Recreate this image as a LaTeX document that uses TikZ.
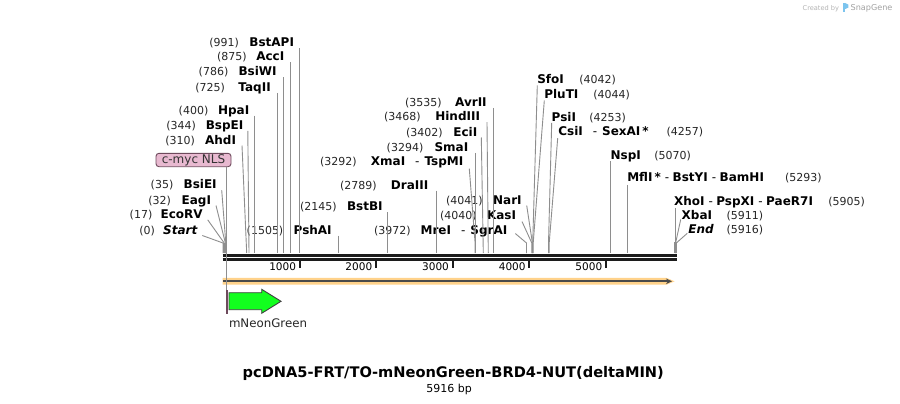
\documentclass[tikz,border=0pt]{standalone}
\usepackage{fontspec}
\setmainfont{DejaVu Sans}
\usetikzlibrary{calc,arrows.meta}
\definecolor{linegray}{HTML}{8E8E8E}
\definecolor{axisblack}{HTML}{1C1C1C}
\definecolor{bandorange}{HTML}{FFD28A}
\definecolor{banddark}{HTML}{4A4A4A}
\definecolor{neongreen}{HTML}{12FF1E}
\definecolor{nlspink}{HTML}{E8B9D0}
\definecolor{nlsborder}{HTML}{6E4A5C}
\definecolor{logogray}{HTML}{B4B4B4}
\definecolor{logoblue}{HTML}{7CC4EE}
\newcommand{\cutdash}{\hspace{4pt}{\mdseries -}\hspace{3.5pt}}
\newcommand{\cutdashw}{\hspace{10pt}{\mdseries -}\hspace{5pt}}

\begin{document}
\begin{tikzpicture}[x=1pt,y=-1pt]
\tikzstyle{every node}=[inner sep=0pt, outer sep=0pt]
\tikzstyle{num}=[font=\fontsize{11}{13}\selectfont, text=black!85]
\tikzstyle{enz}=[font=\fontsize{12}{14}\selectfont\bfseries]
\tikzstyle{endlab}=[font=\fontsize{12}{14}\selectfont\bfseries\itshape]
\tikzstyle{conn}=[draw=linegray, line width=0.9pt]
\tikzstyle{axtick}=[draw=axisblack, line width=2pt]
\tikzstyle{ticklab}=[font=\fontsize{10.5}{12}\selectfont, anchor=base east]
\useasboundingbox (0,0) rectangle (900,404);
\fill[white] (0,0) rectangle (900,404);

% sites on the sequence line
\coordinate (p0) at (223,253);
\coordinate (p17) at (224.2,253);
\coordinate (p32) at (225.4,253);
\coordinate (p35) at (225.8,253);
\coordinate (p310) at (246.7,253);
\coordinate (p344) at (249,253);
\coordinate (p400) at (254,253);
\coordinate (p725) at (277.6,253);
\coordinate (p786) at (283,253);
\coordinate (p875) at (290.2,253);
\coordinate (p991) at (299.2,253);
\coordinate (p1505) at (338.3,253);
\coordinate (p2145) at (387.3,253);
\coordinate (p2789) at (436.7,253);
\coordinate (p3292) at (475.1,253);
\coordinate (p3294) at (475.7,253);
\coordinate (p3402) at (483.3,253);
\coordinate (p3468) at (488.3,253);
\coordinate (p3535) at (493.4,253);
\coordinate (p3972) at (526.5,253);
\coordinate (p4040) at (531.8,253);
\coordinate (p4041) at (532.4,253);
\coordinate (p4042) at (532.7,253);
\coordinate (p4044) at (533.2,253);
\coordinate (p4253) at (548.5,253);
\coordinate (p4257) at (549.2,253);
\coordinate (p5070) at (610.9,253);
\coordinate (p5293) at (627.6,253);
\coordinate (p5905) at (675,253);
\coordinate (p5911) at (675.6,253);
\coordinate (p5916) at (676.3,253);

% labels left of their sites
\draw (294,46.7) node (bstapi) [enz,anchor=base east] {BstAPI};
\draw (239,46.7) node (n991) [num,anchor=base east] {(991)};
\draw (284.3,60.7) node (acci) [enz,anchor=base east] {AccI};
\draw (246.7,60.7) node (n875) [num,anchor=base east] {(875)};
\draw (276.7,76) node (bsiwi) [enz,anchor=base east] {BsiWI};
\draw (228.3,76) node (n786) [num,anchor=base east] {(786)};
\draw (270.7,91.3) node (taqii) [enz,anchor=base east] {TaqII};
\draw (225,91.3) node (n725) [num,anchor=base east] {(725)};
\draw (249.3,114) node (hpai) [enz,anchor=base east] {HpaI};
\draw (208.3,114) node (n400) [num,anchor=base east] {(400)};
\draw (243.3,129.3) node (bspei) [enz,anchor=base east] {BspEI};
\draw (196,129.3) node (n344) [num,anchor=base east] {(344)};
\draw (236,144) node (ahdi) [enz,anchor=base east] {AhdI};
\draw (195,144) node (n310) [num,anchor=base east] {(310)};
\draw (216.7,188.7) node (bsiei) [enz,anchor=base east] {BsiEI};
\draw (173.3,188.7) node (n35) [num,anchor=base east] {(35)};
\draw (211,204) node (eagi) [enz,anchor=base east] {EagI};
\draw (171,204) node (n32) [num,anchor=base east] {(32)};
\draw (202.7,218.3) node (ecorv) [enz,anchor=base east] {EcoRV};
\draw (152.3,218.3) node (n17) [num,anchor=base east] {(17)};
\draw (197.3,234) node (start) [endlab,anchor=base east] {Start};
\draw (155,234) node (n0) [num,anchor=base east] {(0)};
\draw (331.7,234) node (pshai) [enz,anchor=base east] {PshAI};
\draw (283.3,234) node (n1505) [num,anchor=base east] {(1505)};
\draw (382.7,210.7) node (bstbi) [enz,anchor=base east] {BstBI};
\draw (336.7,210.7) node (n2145) [num,anchor=base east] {(2145)};
\draw (428.3,189) node (draiii) [enz,anchor=base east] {DraIII};
\draw (376.7,189) node (n2789) [num,anchor=base east] {(2789)};
\draw (463.3,165.7) node (xmai) [enz,anchor=base east] {XmaI\cutdashw TspMI};
\draw (356.7,165.7) node (n3292) [num,anchor=base east] {(3292)};
\draw (468.3,151.3) node (smai) [enz,anchor=base east] {SmaI};
\draw (423.3,151.3) node (n3294) [num,anchor=base east] {(3294)};
\draw (477.3,136) node (ecii) [enz,anchor=base east] {EciI};
\draw (442.7,136) node (n3402) [num,anchor=base east] {(3402)};
\draw (480,120.7) node (hindiii) [enz,anchor=base east] {HindIII};
\draw (420.7,120.7) node (n3468) [num,anchor=base east] {(3468)};
\draw (486.7,106.3) node (avrii) [enz,anchor=base east] {AvrII};
\draw (441.7,106.3) node (n3535) [num,anchor=base east] {(3535)};
\draw (507.3,234) node (mrei) [enz,anchor=base east] {MreI\cutdashw SgrAI};
\draw (410.7,234) node (n3972) [num,anchor=base east] {(3972)};
\draw (516,219) node (kasi) [enz,anchor=base east] {KasI};
\draw (476.7,219) node (n4040) [num,anchor=base east] {(4040)};
\draw (521.7,204) node (nari) [enz,anchor=base east] {NarI};
\draw (482.7,204) node (n4041) [num,anchor=base east] {(4041)};

% labels right of their sites
\draw (537.3,84) node (sfoi) [enz,anchor=base west] {SfoI};
\draw (579.3,84) node (n4042) [num,anchor=base west] {(4042)};
\draw (544.3,99) node (pluti) [enz,anchor=base west] {PluTI};
\draw (593.3,99) node (n4044) [num,anchor=base west] {(4044)};
\draw (551.7,121.3) node (psii) [enz,anchor=base west] {PsiI};
\draw (589.3,121.3) node (n4253) [num,anchor=base west] {(4253)};
\draw (558.3,135.7) node (csii) [enz,anchor=base west] {CsiI\cutdashw SexAI\hspace{2pt}*};
\draw (666.7,135.7) node (n4257) [num,anchor=base west] {(4257)};
\draw (610.7,159) node (nspi) [enz,anchor=base west] {NspI};
\draw (654.3,159) node (n5070) [num,anchor=base west] {(5070)};
\draw (627.3,181.3) node (mfli) [enz,anchor=base west] {MflI\hspace{2pt}*\cutdash BstYI\cutdash BamHI};
\draw (785,181.3) node (n5293) [num,anchor=base west] {(5293)};
\draw (674,205.7) node (xhoi) [enz,anchor=base west] {XhoI\cutdash PspXI\cutdash PaeR7I};
\draw (828.3,205.7) node (n5905) [num,anchor=base west] {(5905)};
\draw (681.7,219) node (xbai) [enz,anchor=base west] {XbaI};
\draw (726.7,219) node (n5911) [num,anchor=base west] {(5911)};
\draw (688.3,233.3) node (stop) [endlab,anchor=base west] {End};
\draw (726.7,233.3) node (n5916) [num,anchor=base west] {(5916)};

% connectors
\fill[linegray] (222.7,242.7) rectangle (226.6,253);
\fill[linegray] (674.3,241.7) rectangle (676.9,253);
\draw[conn] ($(p991 |- bstapi.base)+(0,1.5)$) -- (p991);
\draw[conn] ($(p875 |- acci.base)+(0,1.5)$) -- (p875);
\draw[conn] ($(p786 |- bsiwi.base)+(0,1.5)$) -- (p786);
\draw[conn] ($(p725 |- taqii.base)+(0,1.5)$) -- (p725);
\draw[conn] ($(p400 |- hpai.base)+(0,1.5)$) -- (p400);
\draw[conn] ($(bspei.base east)+(4.5,1.5)$) -- (p344);
\draw[conn] ($(ahdi.base east)+(6,1.5)$) -- (p310);
\draw[conn] ($(bsiei.base east)+(5,1.5)$) -- ($(p35)+(0,-10)$) -- (p35);
\draw[conn] ($(eagi.base east)+(5,1.5)$) -- ($(p32)+(0,-10)$) -- (p32);
\draw[conn] ($(ecorv.base east)+(5,1.5)$) -- ($(p17)+(0,-10)$) -- (p17);
\draw[conn] ($(start.base east)+(5,1.5)$) -- ($(p0)+(0,-10)$) -- (p0);
\draw[conn] ($(p1505 |- pshai.base)+(0,1.5)$) -- (p1505);
\draw[conn] ($(p2145 |- bstbi.base)+(0,1.5)$) -- (p2145);
\draw[conn] ($(p2789 |- draiii.base)+(0,1.5)$) -- (p2789);
\draw[conn] ($(xmai.base east)+(6,3)$) -- ($(p3292)+(0,-10)$) -- (p3292);
\draw[conn] ($(p3294 |- smai.base)+(0,1.5)$) -- (p3294);
\draw[conn] ($(ecii.base east)+(4,1.5)$) -- (p3402);
\draw[conn] ($(hindiii.base east)+(7,1.5)$) -- (p3468);
\draw[conn] ($(p3535 |- avrii.base)+(0,1.5)$) -- (p3535);
\draw[conn] ($(mrei.base east)+(8,-0.5)$) -- ($(p3972)+(0,-10)$) -- (p3972);
\draw[conn] ($(kasi.base east)+(6,2.5)$) -- ($(p4040)+(0,-10)$) -- (p4040);
\draw[conn] ($(nari.base east)+(5,1.5)$) -- ($(p4041)+(0,-10)$) -- (p4041);
\draw[conn] ($(sfoi.base west)+(0,1.5)$) -- ($(p4042)+(0,-10)$) -- (p4042);
\draw[conn] ($(pluti.base west)+(0,1.5)$) -- ($(p4044)+(0,-10)$) -- (p4044);
\draw[conn] ($(psii.base west)+(0,1.5)$) -- ($(p4253)+(0,-10)$) -- (p4253);
\draw[conn] ($(csii.base west)+(-0.6,2.5)$) -- ($(p4257)+(0,-10)$) -- (p4257);
\draw[conn] ($(p5070 |- nspi.base)+(0,2)$) -- (p5070);
\draw[conn] ($(p5293 |- mfli.base)+(0,3.5)$) -- (p5293);
\draw[conn] ($(p5905 |- xhoi.base)+(0,2.5)$) -- (p5905);
\draw[conn] ($(xbai.base west)+(-1,0.5)$) -- ($(p5911)+(0,-10)$) -- (p5911);
\draw[conn] ($(stop.base west)+(-1,0)$) -- ($(p5916)+(0,-10)$) -- (p5916);

% sequence line and ruler
\draw[axisblack, line width=2.7pt] (222.7,255.3) -- (676.9,255.3);
\draw[axisblack, line width=2.7pt] (222.7,259.4) -- (676.9,259.4);
\draw[axtick] (299.8,260.5) -- (299.8,267.6);
\draw[axtick] (376,260.5) -- (376,267.6);
\draw[axtick] (452.7,260.5) -- (452.7,267.6);
\draw[axtick] (529.4,260.5) -- (529.4,267.6);
\draw[axtick] (606,260.5) -- (606,267.6);
\draw (296,270.6) node (t1000) [ticklab] {1000};
\draw (372.2,270.6) node (t2000) [ticklab] {2000};
\draw (448.9,270.6) node (t3000) [ticklab] {3000};
\draw (525.6,270.6) node (t4000) [ticklab] {4000};
\draw (602.2,270.6) node (t5000) [ticklab] {5000};

% orange strand arrow
\fill[bandorange] (222.7,277.9) -- (666.5,277.9) -- (674.5,281.3) -- (666.5,284.7) -- (222.7,284.7) -- cycle;
\draw[banddark, line width=1.8pt, -{Stealth[length=6pt,width=5.5pt]}] (223,281.3) -- (672,281.3);

% features
\draw (226.5,301.7) node (nlsfeat) [draw=nlsborder, fill=nlsborder, minimum width=1.2pt, minimum height=23pt, line width=0.4pt] {};
\draw (193.5,160) node (nls) [draw=nlsborder, fill=nlspink, rounded corners=3pt, line width=0.9pt, minimum width=75pt, minimum height=13.4pt, font=\fontsize{12}{14}\selectfont, text=black!80] {c-myc NLS};
\draw[conn] (nlsfeat.north |- nls.south) -- (nlsfeat.north);
\draw[fill=neongreen, draw=black!75, line width=0.9pt] (229,292.7) -- (261.7,292.7) -- (261.7,289.3) -- (281,301.3) -- (261.7,313.3) -- (261.7,309.7) -- (229,309.7) -- cycle;
\draw (229,327) node (mng) [anchor=base west, font=\fontsize{11.8}{14}\selectfont, text=black!85] {mNeonGreen};

% title
\draw (453.3,377.5) node (title) [anchor=base, font=\fontsize{14.6}{17}\selectfont\bfseries] {pcDNA5-FRT/TO-mNeonGreen-BRD4-NUT(deltaMIN)};
\draw (449.2,392.2) node (size) [anchor=base, font=\fontsize{11}{13}\selectfont] {5916 bp};

% logo
\draw (802.7,10.2) node (made) [anchor=base west, font=\fontsize{6.6}{8}\selectfont, text=logogray] {Created by};
\fill[logoblue] (843,3) rectangle (845.2,11.8);
\fill[logoblue] (845.2,3) -- (848.4,4.6) -- (848.4,7.6) -- (845.2,9) -- cycle;
\draw (850.7,10.6) node (brand) [anchor=base west, font=\fontsize{8.1}{10}\selectfont, text=logogray!90!black] {SnapGene};
\end{tikzpicture}
\end{document}
